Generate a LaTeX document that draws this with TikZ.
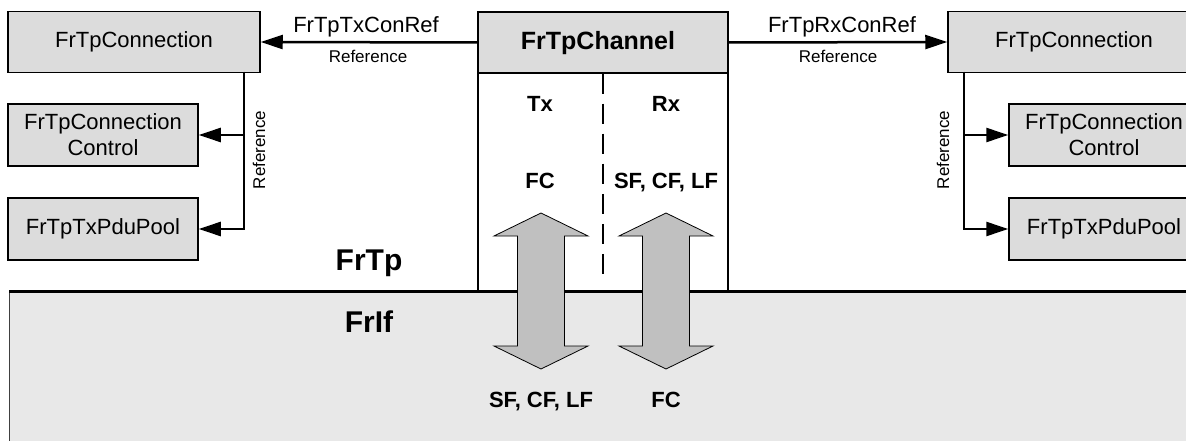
\documentclass[tikz,border=0pt]{standalone}
\usepackage{fontspec}
\setmainfont{Liberation Sans}
\usetikzlibrary{arrows.meta}
\definecolor{boxgray}{RGB}{220,220,220}
\definecolor{ifgray}{RGB}{232,232,232}
\definecolor{arrgray}{RGB}{192,192,192}
\tikzset{
  box/.style={draw, fill=boxgray, line width=1.5pt, inner sep=0pt, align=center,
    font=\fontsize{22}{26}\selectfont},
  bigbox/.style={box, minimum width=252pt, minimum height=61pt},
  smallbox/.style={box, minimum width=190pt, minimum height=62pt},
  conn/.style={line width=2.5pt, -{Triangle[length=22pt,width=14pt]}},
  reflbl/.style={font=\fontsize{17}{20}\selectfont, inner sep=0pt},
  namelbl/.style={font=\fontsize{22}{26}\selectfont, inner sep=0pt, anchor=base},
  boldlbl/.style={font=\fontsize{22}{26}\selectfont\bfseries, inner sep=0pt, anchor=base},
  dblarrow/.pic={\draw[fill=arrgray, line width=0.8pt, line join=miter]
    (0,-78) -- (47,-55) -- (23.5,-55) -- (23.5,55) -- (47,55) -- (0,78)
    -- (-47,55) -- (-23.5,55) -- (-23.5,-55) -- (-47,-55) -- cycle;}
}
\begin{document}
\begin{tikzpicture}[x=1pt,y=-1pt]
\useasboundingbox (0,0) rectangle (1186,441);
% FrIf area
\fill[ifgray] (9,291) rectangle (1200,450);
\draw[line width=1pt, black!75] (9,291) -- (9,450);
% channel
\node[box, fill=white, minimum width=250pt, minimum height=218pt] (chanbody) at (603,182) {};
\node[box, minimum width=250pt, minimum height=61pt, font=\fontsize{25}{30}\selectfont\bfseries] (chan) at (603,42.5) {};
\node[boldlbl, font=\fontsize{25}{30}\selectfont\bfseries] (chanlbl) at (598,50) {FrTpChannel};
\draw[line width=2pt, dash pattern=on 20pt off 10pt] (chan.south) -- ([yshift=9pt]chanbody.south);
\draw[line width=3pt] (9,291) -- (1186,291);
% left side
\node[bigbox] (lconn) at (134,42) {FrTpConnection};
\node[smallbox] (lctrl) at (103,135) {FrTpConnection\\Control};
\node[smallbox] (lpool) at (103,229) {FrTpTxPduPool};
\coordinate (ljoin) at (244,72);
\draw[conn] (chan.west) -- (lconn.east);
\draw[conn] (ljoin) |- (lctrl.east);
\draw[conn] (ljoin) |- (lpool.east);
\node[namelbl] (ltxref) at (366,33) {FrTpTxConRef};
\node[reflbl, anchor=base] (lref) at (368,63) {Reference};
\node[reflbl, rotate=90] (lvref) at (259,150) {Reference};
% right side
\node[bigbox] (rconn) at (1074,42) {FrTpConnection};
\node[smallbox] (rctrl) at (1104,135) {FrTpConnection\\Control};
\node[smallbox] (rpool) at (1104,229) {FrTpTxPduPool};
\coordinate (rjoin) at (964,72);
\draw[conn] (chan.east) -- (rconn.west);
\draw[conn] (rjoin) |- (rctrl.west);
\draw[conn] (rjoin) |- (rpool.west);
\node[namelbl] (rrxref) at (842,33) {FrTpRxConRef};
\node[reflbl, anchor=base] (rref) at (838,63) {Reference};
\node[reflbl, rotate=90] (rvref) at (943,150) {Reference};
% channel texts
\node[boldlbl] (tx) at (540,112) {Tx};
\node[boldlbl] (rx) at (666,112) {Rx};
\node[boldlbl] (fc1) at (540,189) {FC};
\node[boldlbl] (sf1) at (666,189) {SF, CF, LF};
\node[boldlbl] (sf2) at (541,407) {SF, CF, LF};
\node[boldlbl] (fc2) at (666,407) {FC};
% layer names
\node[boldlbl, font=\fontsize{30}{34}\selectfont\bfseries] (frtp) at (369,270) {FrTp};
\node[boldlbl, font=\fontsize{30}{34}\selectfont\bfseries] (frif) at (369,332) {FrIf};
% block arrows
\pic at (541,291) {dblarrow};
\pic at (666,291) {dblarrow};
\end{tikzpicture}
\end{document}
